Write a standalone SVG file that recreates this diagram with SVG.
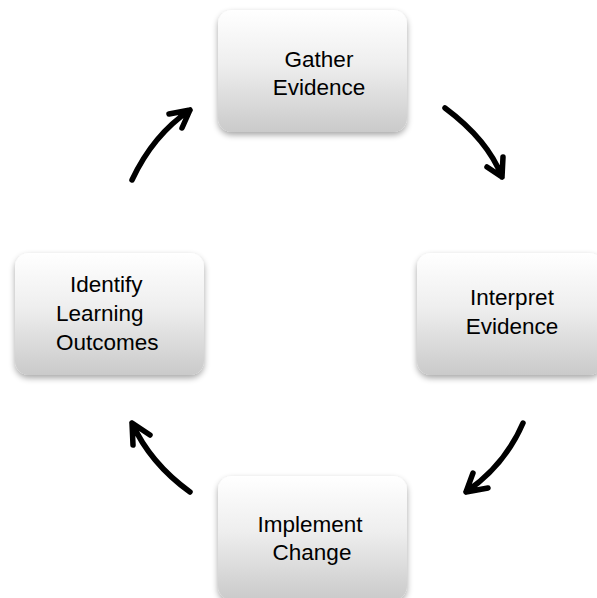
<svg xmlns="http://www.w3.org/2000/svg" width="597" height="598" viewBox="0 0 597 598">
<style>
.box{fill:url(#g);filter:url(#sh)}
.t{font-family:"Liberation Sans",Arial,sans-serif;font-size:22.5px;fill:#000}
.c{text-anchor:middle}
.a{fill:none;stroke:#000;stroke-width:5.5;stroke-linecap:round;stroke-linejoin:round}
</style>
<defs>
<linearGradient id="g" x1="0" y1="0" x2="0" y2="1">
<stop offset="0" stop-color="#ffffff"/>
<stop offset="0.45" stop-color="#eeeeee"/>
<stop offset="1" stop-color="#cacaca"/>
</linearGradient>
<filter id="sh" x="-10%" y="-10%" width="120%" height="130%">
<feGaussianBlur in="SourceAlpha" stdDeviation="3"/>
<feOffset dx="0" dy="3" result="b"/>
<feComponentTransfer><feFuncA type="linear" slope="0.35"/></feComponentTransfer>
<feMerge><feMergeNode/><feMergeNode in="SourceGraphic"/></feMerge>
</filter>
</defs>
<rect width="597" height="598" fill="#fff"/>
<g id="gather">
<rect class="box" x="218" y="10" width="189" height="122" rx="14"/>
<text class="t c" x="319" y="67">Gather</text>
<text class="t c" x="319" y="95">Evidence</text>
</g>
<g id="interpret">
<rect class="box" x="417" y="253" width="186" height="122" rx="14"/>
<text class="t c" x="512" y="305">Interpret</text>
<text class="t c" x="512" y="334">Evidence</text>
</g>
<g id="identify">
<rect class="box" x="15" y="253" width="189" height="122" rx="14"/>
<text class="t" x="70" y="292">Identify</text>
<text class="t" x="56" y="321">Learning</text>
<text class="t" x="56" y="350">Outcomes</text>
</g>
<g id="implement">
<rect class="box" x="218" y="476" width="189" height="124" rx="14"/>
<text class="t c" x="310" y="532">Implement</text>
<text class="t c" x="312" y="560">Change</text>
</g>
<g id="connectors">
<path class="a" d="M445,108 Q488,140 502,177 M487,167 L502,177 L503,157"/>
<path class="a" d="M523,423 Q505,465 466,492 M473,473 L466,492 L488,488"/>
<path class="a" d="M190,492 Q150,463 132,423 M133,445 L132,423 L150,435"/>
<path class="a" d="M132,180 Q153,135 190,110 M169,114 L190,110 L182,128"/>
</g>
</svg>
